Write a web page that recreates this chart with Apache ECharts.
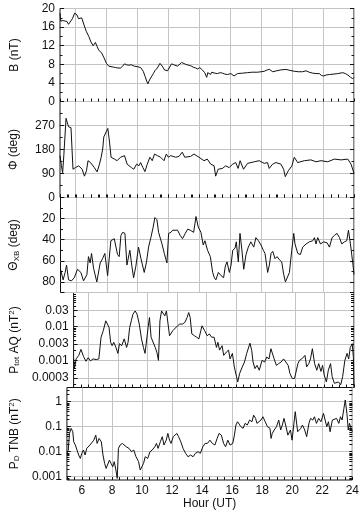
<!DOCTYPE html>
<html>
<head>
<meta charset="UTF-8">
<title>Field and wave power, 5-24 UT</title>
<script src="https://cdn.jsdelivr.net/npm/echarts@6/dist/echarts.min.js"></script>
<style>
  html, body { margin: 0; padding: 0; background: #fff; }
  #chart { width: 362px; height: 512px; }
</style>
</head>
<body>
<div id="chart"></div>
<script>
// [hour UT, value]
var bField = [[5.0,19.0],[5.05,17.3],[5.1,17.0],[5.2,17.4],[5.3,17.0],[5.45,17.2],[5.55,16.6],[5.67,16.5],[5.8,17.8],[5.95,19.0],[6.0,19.2],[6.1,18.6],[6.2,17.8],[6.32,17.6],[6.4,18.0],[6.49,17.6],[6.6,16.0],[6.71,15.0],[6.86,14.0],[7.0,12.8],[7.14,12.0],[7.29,12.7],[7.4,11.8],[7.51,11.0],[7.68,10.5],[7.83,9.5],[8.0,8.2],[8.15,7.6],[8.26,7.3],[8.45,7.4],[8.59,7.3],[8.75,7.2],[8.91,7.2],[9.05,7.6],[9.17,8.1],[9.3,7.9],[9.45,7.8],[9.6,7.9],[9.8,7.6],[9.99,7.5],[10.21,7.3],[10.38,6.5],[10.5,5.4],[10.6,4.4],[10.68,3.8],[10.78,4.6],[10.85,5.0],[11.03,6.0],[11.15,6.7],[11.29,7.2],[11.46,8.2],[11.55,7.9],[11.65,7.4],[11.75,6.8],[11.83,6.5],[11.95,6.6],[12.04,6.9],[12.21,8.1],[12.35,7.9],[12.47,7.8],[12.6,7.6],[12.69,7.8],[12.86,8.4],[12.95,8.1],[13.12,8.0],[13.3,7.8],[13.44,7.7],[13.6,7.4],[13.77,7.2],[13.9,7.0],[14.03,7.3],[14.2,6.8],[14.35,6.2],[14.48,5.2],[14.55,6.2],[14.63,6.5],[14.73,5.8],[14.8,6.3],[14.89,6.5],[15.0,6.1],[15.17,6.0],[15.35,6.2],[15.5,6.1],[15.65,5.9],[15.82,5.8],[16.04,6.0],[16.15,5.8],[16.25,5.5],[16.35,5.8],[16.47,6.0],[16.8,6.1],[17.12,6.2],[17.4,6.3],[17.77,6.3],[18.0,6.4],[18.2,6.5],[18.4,6.8],[18.53,6.9],[18.65,6.6],[18.75,6.4],[19.0,6.6],[19.28,6.8],[19.6,6.9],[19.85,6.7],[20.14,6.5],[20.4,6.4],[20.68,6.4],[20.9,6.6],[21.1,6.3],[21.33,6.1],[21.55,6.0],[21.76,6.0],[21.9,5.6],[22.04,5.5],[22.2,5.7],[22.41,5.8],[22.7,5.9],[22.95,6.0],[23.27,6.2],[23.45,6.0],[23.6,5.7],[23.78,5.2],[23.92,4.9],[24.0,5.2]];

var phiAngle = [[5.0,157],[5.09,119],[5.17,93],[5.25,160],[5.39,297],[5.5,275],[5.56,265],[5.71,262],[5.84,106],[5.99,112],[6.21,119],[6.43,106],[6.58,80],[6.71,100],[6.81,138],[6.97,131],[7.07,138],[7.22,112],[7.40,96],[7.55,125],[7.66,151],[7.76,182],[7.83,227],[7.94,234],[8.09,259],[8.2,208],[8.3,151],[8.52,144],[8.69,138],[8.91,151],[9.17,157],[9.34,125],[9.45,131],[9.62,112],[9.77,106],[9.95,125],[10.1,119],[10.21,131],[10.36,112],[10.49,97],[10.64,125],[10.81,151],[10.96,138],[11.11,163],[11.29,157],[11.5,151],[11.72,138],[11.87,163],[12.0,151],[12.15,157],[12.47,151],[12.69,154],[12.9,170],[13.06,151],[13.44,154],[13.66,163],[13.98,151],[14.31,138],[14.52,144],[14.74,125],[14.96,119],[15.06,80],[15.22,106],[15.5,109],[15.71,119],[15.93,112],[16.15,125],[16.36,131],[16.51,109],[16.64,138],[16.86,106],[17.12,128],[17.56,134],[17.87,138],[18.2,128],[18.41,131],[18.52,109],[18.74,125],[18.95,131],[19.28,125],[19.45,106],[19.56,78],[19.75,100],[19.99,119],[20.14,151],[20.36,131],[20.79,138],[21.22,141],[21.54,134],[21.87,138],[22.3,134],[22.73,144],[23.16,141],[23.6,144],[23.81,125],[24.0,90]];

var thetaXB = [[5.0,68],[5.09,67],[5.17,78],[5.30,71],[5.39,64],[5.52,78],[5.71,79],[5.89,76],[6.10,68],[6.32,71],[6.49,79],[6.71,73],[6.81,56],[6.92,62],[7.01,53],[7.14,67],[7.35,80],[7.57,62],[7.72,58],[7.87,53],[8.05,74],[8.26,41],[8.48,39],[8.69,54],[8.80,56],[8.91,36],[9.02,33],[9.17,34],[9.30,64],[9.49,50],[9.62,65],[9.73,76],[9.88,65],[10.05,47],[10.21,58],[10.42,71],[10.57,61],[10.70,47],[10.85,38],[11.00,28],[11.11,19],[11.24,21],[11.35,33],[11.46,34],[11.57,44],[11.72,53],[11.89,62],[12.00,34],[12.15,33],[12.26,31],[12.41,31],[12.58,31],[12.75,36],[12.90,39],[13.08,34],[13.23,30],[13.40,31],[13.62,33],[13.77,18],[13.92,28],[14.09,33],[14.24,45],[14.35,41],[14.52,50],[14.70,56],[14.85,71],[14.96,76],[15.06,78],[15.22,71],[15.39,74],[15.56,76],[15.67,65],[15.78,61],[15.93,71],[16.04,64],[16.15,50],[16.30,48],[16.38,42],[16.51,61],[16.62,34],[16.73,48],[16.86,68],[17.01,54],[17.16,47],[17.32,42],[17.51,47],[17.65,38],[17.81,41],[17.98,45],[18.13,50],[18.24,53],[18.41,71],[18.52,64],[18.63,53],[18.74,51],[18.89,58],[19.02,56],[19.17,59],[19.32,61],[19.45,73],[19.56,80],[19.66,80],[19.82,71],[19.97,50],[20.10,34],[20.18,44],[20.36,53],[20.53,54],[20.68,47],[20.90,44],[21.11,42],[21.33,41],[21.44,38],[21.54,44],[21.65,38],[21.83,44],[22.04,42],[22.26,43],[22.41,47],[22.58,38],[22.73,36],[22.90,34],[23.06,38],[23.21,44],[23.38,42],[23.53,41],[23.64,31],[23.77,44],[23.92,62],[24.0,73]];

var powerAQ = [[5.0,0.0011],[5.06,0.00057],[5.17,0.0011],[5.35,0.0014],[5.50,0.0021],[5.67,0.0013],[5.84,0.00094],[5.99,0.0012],[6.14,0.00096],[6.32,0.0011],[6.53,0.00105],[6.71,0.0011],[6.86,0.0048],[7.01,0.0075],[7.18,0.0146],[7.29,0.0164],[7.40,0.0094],[7.51,0.0034],[7.61,0.0027],[7.72,0.0034],[7.87,0.0024],[8.00,0.0016],[8.11,0.0031],[8.26,0.0027],[8.43,0.0043],[8.59,0.0024],[8.69,0.0034],[8.80,0.0094],[8.91,0.0146],[9.02,0.0229],[9.17,0.0286],[9.30,0.0229],[9.45,0.0117],[9.60,0.0043],[9.73,0.0024],[9.84,0.0016],[9.95,0.0016],[10.05,0.0094],[10.14,0.0183],[10.25,0.0048],[10.38,0.0043],[10.53,0.0024],[10.64,0.00175],[10.75,0.001],[10.85,0.0146],[10.96,0.0286],[11.07,0.0256],[11.18,0.0205],[11.29,0.0286],[11.39,0.0286],[11.50,0.0053],[11.61,0.0048],[11.72,0.0075],[11.83,0.0084],[12.04,0.0104],[12.19,0.0117],[12.37,0.0117],[12.54,0.0131],[12.69,0.0183],[12.80,0.0256],[12.90,0.0183],[13.01,0.006],[13.19,0.0053],[13.34,0.0048],[13.49,0.0043],[13.62,0.0075],[13.70,0.0104],[13.88,0.0075],[14.05,0.0053],[14.20,0.006],[14.35,0.0048],[14.52,0.0048],[14.68,0.0024],[14.78,0.0034],[14.89,0.0020],[15.06,0.0027],[15.17,0.0014],[15.35,0.00175],[15.50,0.0020],[15.60,0.0011],[15.76,0.0016],[15.89,0.00064],[16.04,0.00033],[16.12,0.00023],[16.25,0.00041],[16.43,0.00064],[16.58,0.00089],[16.73,0.0016],[16.84,0.00175],[16.95,0.0032],[17.07,0.00195],[17.16,0.00089],[17.29,0.00057],[17.43,0.00071],[17.58,0.00051],[17.77,0.001],[17.94,0.00089],[18.09,0.00125],[18.24,0.0011],[18.37,0.0022],[18.48,0.0022],[18.59,0.0011],[18.74,0.00071],[18.89,0.0008],[19.06,0.00089],[19.23,0.0011],[19.38,0.00089],[19.54,0.00071],[19.66,0.00041],[19.82,0.00029],[19.97,0.00029],[20.10,0.00033],[20.20,0.0008],[20.31,0.001],[20.46,0.0011],[20.57,0.001],[20.68,0.0014],[20.79,0.00064],[20.94,0.0008],[21.05,0.0011],[21.18,0.0022],[21.33,0.0008],[21.48,0.00051],[21.61,0.0008],[21.76,0.00047],[21.87,0.00071],[21.98,0.00037],[22.13,0.00023],[22.26,0.00051],[22.41,0.0008],[22.52,0.00033],[22.67,0.00021],[22.80,0.00019],[22.95,0.00023],[23.10,0.00019],[23.23,0.00033],[23.38,0.001],[23.53,0.0016],[23.64,0.0011],[23.75,0.0024],[23.88,0.0031],[23.96,0.0012],[24.0,0.00017]];

var powerTNB = [[5.0,0.0086],[5.09,0.0117],[5.17,0.054],[5.28,0.086],[5.39,0.063],[5.45,0.025],[5.56,0.0185],[5.67,0.0158],[5.78,0.0074],[5.89,0.0054],[5.99,0.0086],[6.10,0.0117],[6.21,0.0074],[6.32,0.0136],[6.43,0.0117],[6.53,0.0185],[6.64,0.0158],[6.79,0.029],[6.92,0.046],[7.01,0.0215],[7.14,0.034],[7.29,0.025],[7.40,0.0074],[7.51,0.0034],[7.61,0.00215],[7.72,0.0025],[7.83,0.0046],[7.94,0.0034],[8.05,0.0025],[8.15,0.004],[8.26,0.00185],[8.35,0.00086],[8.43,0.0136],[8.54,0.0185],[8.69,0.0215],[8.80,0.025],[8.95,0.0158],[9.13,0.0136],[9.30,0.01],[9.45,0.0117],[9.60,0.0063],[9.77,0.004],[9.88,0.00185],[9.99,0.0016],[10.10,0.0034],[10.21,0.0063],[10.38,0.0054],[10.53,0.01],[10.68,0.0117],[10.85,0.0158],[10.96,0.0215],[11.07,0.0136],[11.22,0.025],[11.35,0.04],[11.46,0.0185],[11.61,0.029],[11.72,0.054],[11.83,0.029],[11.93,0.0215],[12.08,0.04],[12.19,0.034],[12.32,0.054],[12.43,0.04],[12.58,0.025],[12.73,0.0136],[12.90,0.0086],[13.06,0.0063],[13.23,0.0074],[13.40,0.0063],[13.55,0.0086],[13.73,0.01],[13.88,0.0086],[14.05,0.0158],[14.20,0.0215],[14.35,0.0215],[14.52,0.029],[14.68,0.0215],[14.85,0.0185],[15.00,0.034],[15.13,0.054],[15.28,0.046],[15.43,0.0215],[15.56,0.0158],[15.71,0.029],[15.86,0.0185],[16.04,0.0215],[16.15,0.046],[16.25,0.117],[16.36,0.158],[16.47,0.136],[16.58,0.1],[16.73,0.086],[16.86,0.136],[17.01,0.117],[17.16,0.185],[17.32,0.158],[17.43,0.29],[17.56,0.215],[17.65,0.136],[17.77,0.117],[17.92,0.185],[18.05,0.25],[18.20,0.158],[18.35,0.1],[18.52,0.086],[18.59,0.034],[18.67,0.054],[18.80,0.074],[18.95,0.1],[19.10,0.185],[19.23,0.074],[19.34,0.117],[19.45,0.215],[19.56,0.117],[19.71,0.046],[19.88,0.074],[19.99,0.029],[20.10,0.034],[20.20,0.4],[20.29,0.4],[20.36,0.063],[20.46,0.054],[20.57,0.086],[20.68,0.117],[20.83,0.074],[20.96,0.04],[21.11,0.136],[21.22,0.215],[21.37,0.185],[21.48,0.25],[21.61,0.136],[21.76,0.215],[21.91,0.158],[22.08,0.34],[22.19,0.4],[22.30,0.1],[22.41,0.158],[22.52,0.063],[22.67,0.185],[22.80,0.158],[22.95,0.215],[23.10,0.136],[23.21,0.25],[23.32,0.185],[23.44,0.54],[23.53,1.17],[23.64,0.34],[23.73,0.074],[23.81,0.136],[23.92,0.086],[24.0,0.063]];

// tick labels of the two log panels
var aqTicks = [0.0003, 0.001, 0.003, 0.01, 0.03];
var tnbTicks = [0.001, 0.01, 0.1, 1];

var ff = 'Liberation Sans, Arial, sans-serif';
var ink = '#111';
var gridGrey = '#c4c4c4';

var nameStyle = {
    fontSize: 12, color: ink, fontFamily: ff,
    rich: {
        sub: { fontSize: 8, fontFamily: ff, color: ink, verticalAlign: 'bottom', padding: [5, 0, 0, 0] },
        sup: { fontSize: 8, fontFamily: ff, color: ink, verticalAlign: 'top', padding: [0, 0, 5, 0] }
    }
};

var panels = [
    { top: 8.5, height: 93, data: bField, name: 'B (nT)', min: 0, max: 20, interval: 4, gap: 39 },
    { top: 101.5, height: 96, data: phiAngle, name: '\u03A6 (deg)', min: 0, max: 360, interval: 90, hideMax: true, gap: 40 },
    { top: 197.5, height: 95, data: thetaXB, name: '\u0398{sub|XB} (deg)', min: 0, max: 90, interval: 20, inverse: true, hideMin: true, hideMax: true, gap: 40 },
    { top: 292.5, height: 95, data: powerAQ, name: 'P{sub|tot} AQ (nT{sup|2})', log: true, min: 0.000158, max: 0.1, ticks: aqTicks, gap: 42 },
    { top: 387.5, height: 92.5, data: powerTNB, name: 'P{sub|D} TNB (nT{sup|2})', log: true, min: 0.00074, max: 3.7, ticks: tnbTicks, gap: 44 }
];

function minorLogTicks(min, max) {
    var out = [];
    for (var e = -5; e <= 1; e++) {
        for (var m = 2; m <= 9; m++) {
            var v = m * Math.pow(10, e);
            if (v > min && v < max) out.push(v);
        }
    }
    return out;
}

var grids = [], xAxes = [], yAxes = [], series = [];

panels.forEach(function (p, i) {
    var last = i === panels.length - 1;
    grids.push({ left: 60, right: 8, top: p.top, height: p.height, show: true, borderColor: ink, borderWidth: 1 });

    xAxes.push({
        type: 'value', gridIndex: i, min: 5, max: 24, interval: 1,
        axisLine: { show: false },
        axisTick: { show: true, inside: true, length: 3, lineStyle: { color: ink } },
        minorTick: { show: true, splitNumber: 2, length: 3, lineStyle: { color: ink } },
        splitLine: { show: true, lineStyle: { color: ['rgba(0,0,0,0)', gridGrey], width: 1 } },
        axisLabel: {
            show: last, margin: 5, fontSize: 12, color: ink, fontFamily: ff,
            formatter: function (v) { return v % 2 === 0 ? String(v) : ''; }
        },
        name: last ? 'Hour (UT)' : '', nameLocation: 'middle', nameGap: 18,
        nameTextStyle: { fontSize: 12, color: ink, fontFamily: ff }
    });

    var mainIndex = yAxes.length;
    var common = {
        gridIndex: i, min: p.min, max: p.max,
        axisLine: { show: false },
        nameLocation: 'middle', nameRotate: 90
    };

    if (!p.log) {
        yAxes.push(Object.assign({}, common, {
            type: 'value', position: 'left', interval: p.interval, inverse: !!p.inverse,
            axisTick: { inside: true, length: 4, lineStyle: { color: ink } },
            minorTick: { show: true, splitNumber: 2, length: 2.5, lineStyle: { color: ink } },
            splitLine: { show: true, lineStyle: { color: gridGrey } },
            axisLabel: { margin: 5, fontSize: 12, color: ink, fontFamily: ff, showMinLabel: !p.hideMin, showMaxLabel: !p.hideMax },
            name: p.name, nameGap: p.gap, nameTextStyle: nameStyle
        }));
        yAxes.push(Object.assign({}, common, {
            type: 'value', position: 'right', interval: p.interval, inverse: !!p.inverse,
            axisTick: { inside: true, length: 4, lineStyle: { color: ink } },
            minorTick: { show: true, splitNumber: 2, length: 2.5, lineStyle: { color: ink } },
            splitLine: { show: false },
            axisLabel: { show: false }
        }));
    } else {
        var minors = minorLogTicks(p.min, p.max);
        yAxes.push(Object.assign({}, common, {
            type: 'log', logBase: 10, position: 'left',
            axisTick: { inside: true, length: 4, customValues: p.ticks, lineStyle: { color: ink } },
            splitLine: { show: true, lineStyle: { color: gridGrey } },
            axisLabel: {
                margin: 5, fontSize: 12, color: ink, fontFamily: ff, customValues: p.ticks,
                formatter: function (v) { return String(+Number(v).toPrecision(1)); }
            },
            name: p.name, nameGap: p.gap, nameTextStyle: nameStyle
        }));
        yAxes.push(Object.assign({}, common, {
            type: 'log', logBase: 10, position: 'left',
            axisTick: { inside: true, length: 2.5, customValues: minors, lineStyle: { color: ink } },
            splitLine: { show: false },
            axisLabel: { show: false }
        }));
        yAxes.push(Object.assign({}, common, {
            type: 'log', logBase: 10, position: 'right',
            axisTick: { inside: true, length: 3, customValues: minors.concat(p.ticks), lineStyle: { color: ink } },
            splitLine: { show: false },
            axisLabel: { show: false }
        }));
    }

    series.push({
        type: 'line', xAxisIndex: i, yAxisIndex: mainIndex, data: p.data,
        showSymbol: false, symbol: 'none', silent: true,
        lineStyle: { color: '#111', width: 1 }
    });
});

var chart = echarts.init(document.getElementById('chart'));
chart.setOption({
    animation: false,
    backgroundColor: '#fff',
    grid: grids,
    xAxis: xAxes,
    yAxis: yAxes,
    series: series
});
</script>
</body>
</html>
